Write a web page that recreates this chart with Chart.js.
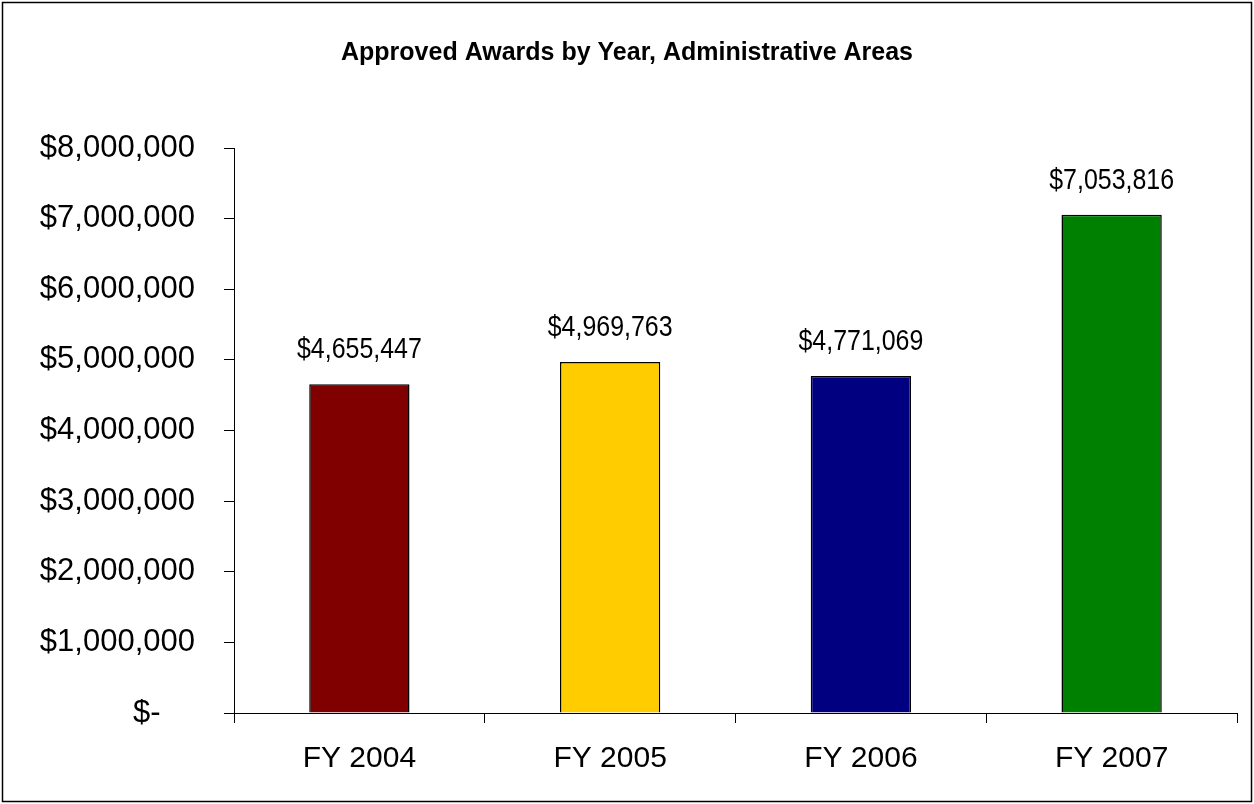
<!DOCTYPE html>
<html>
<head>
<meta charset="utf-8">
<script src="https://cdn.jsdelivr.net/npm/chart.js@4/dist/chart.umd.min.js"></script>
<style>
  html, body { margin: 0; padding: 0; background: #fff; }
  canvas { display: block; }
</style>
</head>
<body>
<canvas id="myChart" width="1254" height="804"></canvas>
<script>
const years = ["FY 2004", "FY 2005", "FY 2006", "FY 2007"];
const awards = [4655447, 4969763, 4771069, 7053816];
const barColors = ["#800000", "#FFCC00", "#000080", "#008000"];
const yTicks = [0, 1000000, 2000000, 3000000, 4000000, 5000000, 6000000, 7000000, 8000000];

function money(v) {
  return "$" + v.toLocaleString("en-US");
}

// 바깥 테두리
const frame = {
  id: "frame",
  afterDraw(chart) {
    const ctx = chart.ctx;
    ctx.save();
    ctx.strokeStyle = "#000";
    ctx.lineWidth = 1.5;
    ctx.strokeRect(2.5, 2.5, chart.width - 5, chart.height - 5);
    ctx.restore();
  }
};

// 막대 위 값 표시 (좁은 글꼴 흉내: 가로로 살짝 눌러서)
const valueLabels = {
  id: "valueLabels",
  afterDatasetsDraw(chart) {
    const ctx = chart.ctx;
    const meta = chart.getDatasetMeta(0);
    const squeeze = 0.86;
    ctx.save();
    ctx.fillStyle = "#000";
    ctx.font = "29px 'Liberation Sans', Arial, sans-serif";
    ctx.textAlign = "center";
    ctx.textBaseline = "alphabetic";
    meta.data.forEach((bar, i) => {
      ctx.save();
      ctx.translate(bar.x, bar.y - 26);
      ctx.scale(squeeze, 1);
      ctx.fillText(money(awards[i]), 0, 0);
      ctx.restore();
    });
    ctx.restore();
  }
};

const ctx = document.getElementById("myChart").getContext("2d");
new Chart(ctx, {
  type: "bar",
  data: {
    labels: years,
    datasets: [{
      data: awards,
      backgroundColor: barColors,
      borderColor: "#000",
      borderWidth: 1.5,
      barPercentage: 0.4,
      categoryPercentage: 1
    }]
  },
  options: {
    responsive: false,
    devicePixelRatio: 1,
    animation: false,
    layout: { padding: { left: 17, right: 17, top: 0, bottom: 0 } },
    scales: {
      x: {
        grid: { drawOnChartArea: false, tickLength: 10, color: "#000", lineWidth: 1 },
        border: { color: "#000", width: 1 },
        ticks: {
          color: "#000",
          font: { family: "'Liberation Sans', Arial, sans-serif", size: 30 },
          padding: 18,
          maxRotation: 0
        },
        afterFit(scale) { scale.height = 91; }
      },
      y: {
        min: 0,
        max: 8000000,
        grid: { drawOnChartArea: false, tickLength: 10, color: "#000", lineWidth: 1 },
        border: { color: "#000", width: 1 },
        afterBuildTicks(scale) {
          scale.ticks = yTicks.map(v => ({ value: v }));
        },
        ticks: {
          color: "#000",
          font: { family: "'Liberation Sans', Arial, sans-serif", size: 31 },
          padding: 29,
          callback: v => v === 0 ? "$-    " : money(v)
        },
        afterFit(scale) { scale.width = 217; }
      }
    },
    plugins: {
      legend: { display: false },
      tooltip: { enabled: false },
      title: {
        display: true,
        text: "Approved Awards by Year, Administrative Areas",
        color: "#000",
        font: { family: "'Liberation Sans', Arial, sans-serif", size: 25, weight: "bold" },
        padding: { top: 38, bottom: 80 }
      }
    }
  },
  plugins: [frame, valueLabels]
});
</script>
</body>
</html>
